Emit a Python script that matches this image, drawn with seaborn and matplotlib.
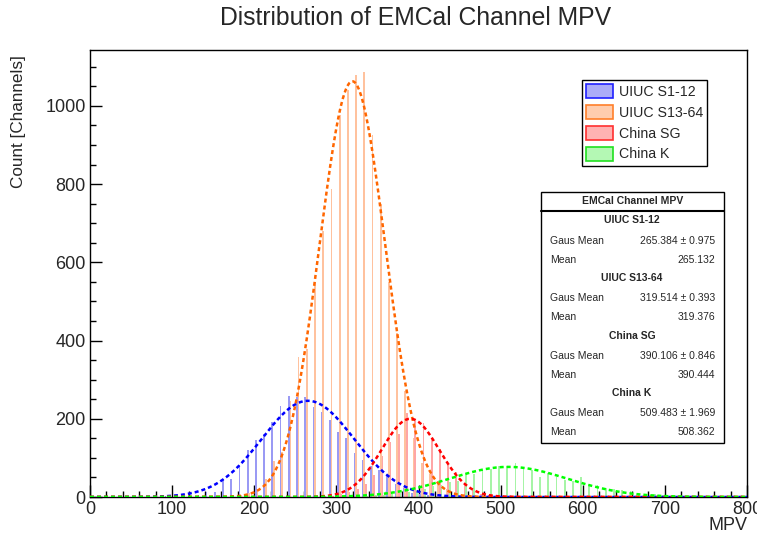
import numpy as np
import pandas as pd
import matplotlib
matplotlib.use("Agg")
import matplotlib.pyplot as plt
import seaborn as sns
from matplotlib.patches import Patch, Rectangle
from matplotlib.lines import Line2D
from matplotlib.ticker import MultipleLocator

# ---------------- data ----------------
series_names = ["UIUC S1-12", "UIUC S13-64", "China SG", "China K"]

blue_bins = [80, 90, 100, 110, 120, 130, 140, 150, 160, 170, 180, 190, 200, 210,
             220, 230, 240, 250, 260, 270, 280, 290, 300, 310, 320, 330, 340, 350,
             360, 370, 380, 390, 400, 410, 420, 430, 440]
blue_counts = [1, 2, 1, 2, 3, 4, 14, 12, 45, 47, 81, 119, 145, 160,
               191, 232, 258, 256, 255, 230, 217, 197, 165, 150, 112, 95, 78, 70,
               53, 32, 22, 11, 7, 4, 3, 2, 1]

orange_bins = [140, 150, 160, 170, 180, 190, 200, 210, 220, 230, 240, 250, 260, 270,
               280, 290, 300, 310, 320, 330, 340, 350, 360, 370, 380, 390, 400, 410,
               420, 430, 440, 450, 460, 470]
orange_counts = [1, 2, 3, 4, 6, 11, 19, 47, 92, 115, 245, 357, 378, 550,
                 681, 788, 976, 1040, 1079, 1086, 925, 750, 550, 420, 270, 150, 88, 60,
                 37, 20, 11, 6, 3, 2]

red_bins = [270, 280, 290, 300, 310, 320, 330, 340, 350, 360, 370, 380, 390, 400,
            410, 420, 430, 440, 450, 460, 470, 480, 490, 500, 510]
red_counts = [1, 2, 3, 8, 12, 20, 32, 55, 105, 140, 160, 215, 194, 190,
              150, 124, 83, 65, 37, 19, 8, 5, 3, 2, 1]

green_bins = [300, 310, 320, 330, 340, 350, 360, 370, 380, 390, 400, 410, 420, 430,
              440, 450, 460, 470, 480, 490, 500, 510, 520, 530, 540, 550, 560, 570,
              580, 590, 600, 610, 620, 630, 640, 650, 660, 670, 680, 690, 700, 710,
              720, 730, 740]
green_counts = [1, 1, 2, 3, 4, 5, 8, 10, 12, 18, 20, 28, 30, 38,
                42, 62, 58, 68, 72, 78, 80, 86, 74, 70, 52, 62, 52, 44,
                40, 50, 32, 30, 24, 21, 17, 16, 9, 7, 7, 4, 3, 2,
                2, 1, 1]

# Gaussian fit parameters (amplitude, mean, sigma)
fit_amp = [246, 1063, 200, 77]
fit_mean = [265.384, 319.514, 390.106, 509.483]
fit_sigma = [56, 40, 35, 72]

stats_gaus = ["265.384 \u00b1 0.975", "319.514 \u00b1 0.393",
              "390.106 \u00b1 0.846", "509.483 \u00b1 1.969"]
stats_mean = ["265.132", "319.376", "390.444", "508.362"]

# ---------------- style ----------------
sns.set_theme(style="white")
plt.rcParams['font.family'] = ['Liberation Sans', 'DejaVu Sans']

fill_colors = ["#9a9af4", "#ffc29e", "#ffa6a6", "#a6f4a6"]
legend_fill = ["#acacf8", "#ffcdae", "#ffb2b2", "#b4f8b4"]
edge_colors = ["#2020ff", "#ff7f2a", "#ff3030", "#20e020"]
line_colors = ["#0000ff", "#ff6600", "#ff0000", "#00ff00"]
offsets = [2, 4, 6, 8]

W, H = 757, 540
fig = plt.figure(figsize=(W / 100, H / 100), dpi=100)
ax = fig.add_axes([90 / W, 1 - 497 / H, 657 / W, 447 / H])

all_bins = [blue_bins, orange_bins, red_bins, green_bins]
all_counts = [blue_counts, orange_counts, red_counts, green_counts]

for i in range(4):
    df = pd.DataFrame({"x": np.array(all_bins[i]) + offsets[i],
                       "w": all_counts[i]})
    sns.histplot(data=df, x="x", weights="w", binwidth=10,
                 binrange=(offsets[i] - 5, offsets[i] - 5 + 800),
                 shrink=0.21, color=fill_colors[i], alpha=1.0,
                 edgecolor="none", linewidth=0, ax=ax)

xg = np.linspace(0, 800, 1601)
for i in range(4):
    yg = fit_amp[i] * np.exp(-0.5 * ((xg - fit_mean[i]) / fit_sigma[i]) ** 2)
    sns.lineplot(x=xg, y=yg, color=line_colors[i], linewidth=1.8,
                 linestyle=(0, (1.6, 1.2)), ax=ax, zorder=5)

ax.set_xlim(0, 800)
ax.set_ylim(0, 1143)
ax.set_xlabel("")
ax.set_ylabel("")
ax.xaxis.set_major_locator(MultipleLocator(100))
ax.xaxis.set_minor_locator(MultipleLocator(20))
ax.yaxis.set_major_locator(MultipleLocator(200))
ax.yaxis.set_minor_locator(MultipleLocator(50))
ax.tick_params(which="major", direction="in", length=8.6, width=1, color="black",
               top=False, right=False, bottom=True, left=True, labelsize=13, pad=3)
ax.tick_params(which="minor", direction="in", length=4.3, width=1, color="black",
               top=False, right=False, bottom=True, left=True)
for sp in ax.spines.values():
    sp.set_color("black")
    sp.set_linewidth(1)
    sp.set_visible(True)

# titles / labels
fig.text(416 / W, 1 - 18 / H, "Distribution of EMCal Channel MPV",
         ha="center", va="center", fontsize=17.8)
fig.text(19 / W, 1 - 55 / H, "Count [Channels]", rotation=90,
         ha="center", va="top", fontsize=12.3)
fig.text(747 / W, 1 - 525 / H, "MPV", ha="right", va="center", fontsize=13)

# legend
handles = [Patch(facecolor=legend_fill[i], edgecolor=edge_colors[i], linewidth=1.2)
           for i in range(4)]
leg = ax.legend(handles, series_names, loc="upper left",
                bbox_to_anchor=(582 / W, 1 - 80 / H), bbox_transform=fig.transFigure,
                borderaxespad=0, frameon=True, fancybox=False, framealpha=1,
                edgecolor="black", fontsize=10.2, handlelength=1.9, handleheight=1.15,
                handletextpad=0.4, labelspacing=0.42, borderpad=0.3)
leg.get_frame().set_linewidth(1)
leg.set_zorder(10)

# stats box
bx0, bx1, by0, by1 = 540.7, 724, 192, 443
fig.add_artist(Rectangle((bx0 / W, 1 - by1 / H), (bx1 - bx0) / W, (by1 - by0) / H,
                         transform=fig.transFigure, facecolor="white",
                         edgecolor="black", linewidth=1, zorder=20))
fig.add_artist(Line2D([bx0 / W, bx1 / W], [1 - 211 / H, 1 - 211 / H],
                      transform=fig.transFigure, color="black", linewidth=1.5, zorder=21))
fig.text((bx0 + bx1) / 2 / W, 1 - 201 / H, "EMCal Channel MPV", ha="center",
         va="center", fontsize=7.5, fontweight="bold", zorder=22)
row_y = [220, 241, 260, 278, 298, 317, 336, 356, 375, 393, 413, 432]
for i in range(4):
    yh, yg_, ym = row_y[3 * i], row_y[3 * i + 1], row_y[3 * i + 2]
    fig.text(632 / W, 1 - yh / H, series_names[i], ha="center", va="center",
             fontsize=7.5, fontweight="bold", zorder=22)
    fig.text(550 / W, 1 - yg_ / H, "Gaus Mean", ha="left", va="center",
             fontsize=7.5, zorder=22)
    fig.text(715 / W, 1 - yg_ / H, stats_gaus[i], ha="right", va="center",
             fontsize=7.5, zorder=22)
    fig.text(550 / W, 1 - ym / H, "Mean", ha="left", va="center",
             fontsize=7.5, zorder=22)
    fig.text(715 / W, 1 - ym / H, stats_mean[i], ha="right", va="center",
             fontsize=7.5, zorder=22)

fig.savefig("out.png", dpi=100)
